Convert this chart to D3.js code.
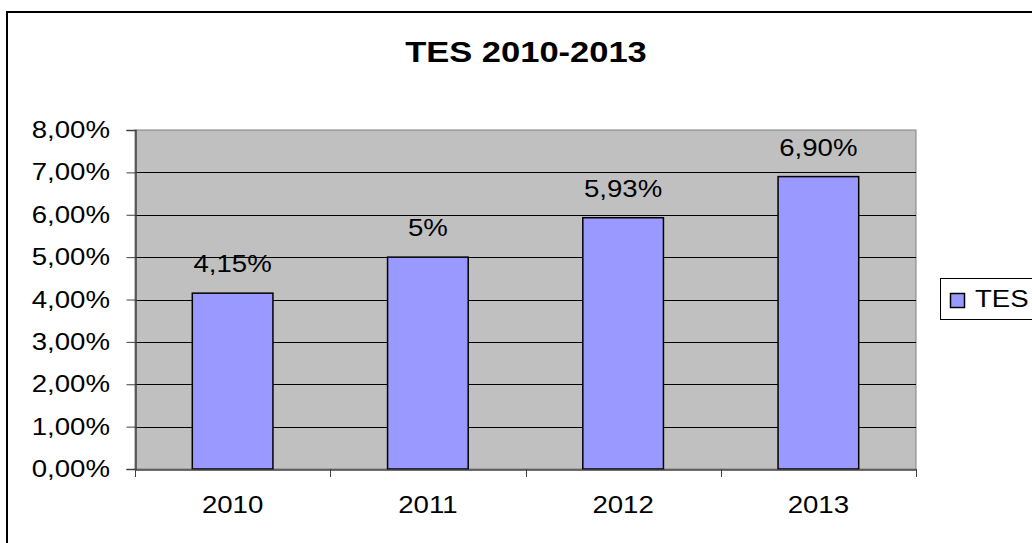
<!DOCTYPE html>
<html>
<head>
<meta charset="utf-8">
<script src="https://cdn.jsdelivr.net/npm/d3@7"></script>
<style>
  html, body { margin: 0; padding: 0; background: #fff; overflow: hidden; }
  text { font-family: "Liberation Sans", Arial, sans-serif; fill: #000; }
</style>
</head>
<body>
<div id="chart"></div>
<script>
// data
var years = ["2010", "2011", "2012", "2013"];
var tesValues = [4.15, 5.00, 5.93, 6.90];
var valueLabels = ["4,15%", "5%", "5,93%", "6,90%"];
var yTicks = [0, 1, 2, 3, 4, 5, 6, 7, 8];
var seriesName = "TES";

var W = 1032, H = 543;
var plot = { left: 135, top: 130, right: 916, bottom: 469 };
var sx = 1.15; // text in the picture is a bit wider than normal

var svg = d3.select("#chart").append("svg")
    .attr("width", W)
    .attr("height", H);

// chart border, runs off right/bottom edge
svg.append("rect")
    .attr("x", 7).attr("y", 12)
    .attr("width", 1100).attr("height", 700)
    .attr("fill", "white")
    .attr("stroke", "black")
    .attr("stroke-width", 2);

// little helper for stretched text
function label(x, y, str, size, anchor, bold) {
    return svg.append("text")
        .attr("transform", `translate(${x},${y}) scale(${sx},1)`)
        .attr("text-anchor", anchor || "middle")
        .attr("font-size", size + "px")
        .attr("font-weight", bold ? "bold" : "normal")
        .text(str);
}

var x = d3.scaleBand()
    .domain(years)
    .range([plot.left, plot.right]);

var y = d3.scaleLinear()
    .domain([0, 8])
    .range([plot.bottom, plot.top]);

// plot background
svg.append("rect")
    .attr("x", plot.left).attr("y", plot.top)
    .attr("width", plot.right - plot.left)
    .attr("height", plot.bottom - plot.top)
    .attr("fill", "#c0c0c0")
    .attr("stroke", "#808080")
    .attr("stroke-width", 1);

// gridlines
svg.selectAll("line.grid")
    .data(yTicks.filter(d => d > 0 && d < 8))
    .enter().append("line")
    .attr("class", "grid")
    .attr("x1", plot.left).attr("x2", plot.right)
    .attr("y1", d => Math.round(y(d)) + 0.5)
    .attr("y2", d => Math.round(y(d)) + 0.5)
    .attr("stroke", "black")
    .attr("stroke-width", 1);

// y axis
var yAxis = svg.append("g")
    .attr("transform", `translate(${plot.left + 0.5},0)`)
    .call(d3.axisLeft(y).tickValues(yTicks).tickSize(9).tickFormat(""));
yAxis.select(".domain").attr("stroke", "#404040").attr("stroke-width", 1.5);
yAxis.selectAll(".tick line").attr("stroke", "#404040");

yTicks.forEach(function(t) {
    label(110, y(t) + 8, t.toFixed(2).replace(".", ",") + "%", 24, "end");
});

// bars
var barW = x.bandwidth() * 0.413;
svg.selectAll("rect.bar")
    .data(tesValues)
    .enter().append("rect")
    .attr("class", "bar")
    .attr("x", (d, i) => x(years[i]) + (x.bandwidth() - barW) / 2)
    .attr("y", d => y(d))
    .attr("width", barW)
    .attr("height", d => y(0) - y(d))
    .attr("fill", "#9999ff")
    .attr("stroke", "black")
    .attr("stroke-width", 1.5);

// value labels
tesValues.forEach(function(v, i) {
    label(x(years[i]) + x.bandwidth() / 2, y(v) - 21, valueLabels[i], 24);
});

// x axis
var xAxis = svg.append("g")
    .attr("transform", `translate(0,${plot.bottom + 0.5})`)
    .call(d3.axisBottom(x).tickSize(0).tickFormat(""));
xAxis.select(".domain").attr("stroke", "#404040").attr("stroke-width", 1.5);

var edges = years.map(d => x(d)).concat([plot.right]);
svg.selectAll("line.xtick")
    .data(edges)
    .enter().append("line")
    .attr("class", "xtick")
    .attr("x1", d => Math.round(d) + 0.5).attr("x2", d => Math.round(d) + 0.5)
    .attr("y1", plot.bottom).attr("y2", plot.bottom + 8)
    .attr("stroke", "#404040");

years.forEach(function(yr) {
    label(x(yr) + x.bandwidth() / 2, 513, yr, 24);
});

// title
label(526, 62, "TES 2010-2013", 30, "middle", true);

// legend
svg.append("rect")
    .attr("x", 940.5).attr("y", 278.5)
    .attr("width", 200).attr("height", 41)
    .attr("fill", "white")
    .attr("stroke", "black");
svg.append("rect")
    .attr("x", 950.5).attr("y", 293.5)
    .attr("width", 14).attr("height", 14)
    .attr("fill", "#9999ff")
    .attr("stroke", "black")
    .attr("stroke-width", 1.5);
label(975, 307, seriesName, 24, "start");
</script>
</body>
</html>
